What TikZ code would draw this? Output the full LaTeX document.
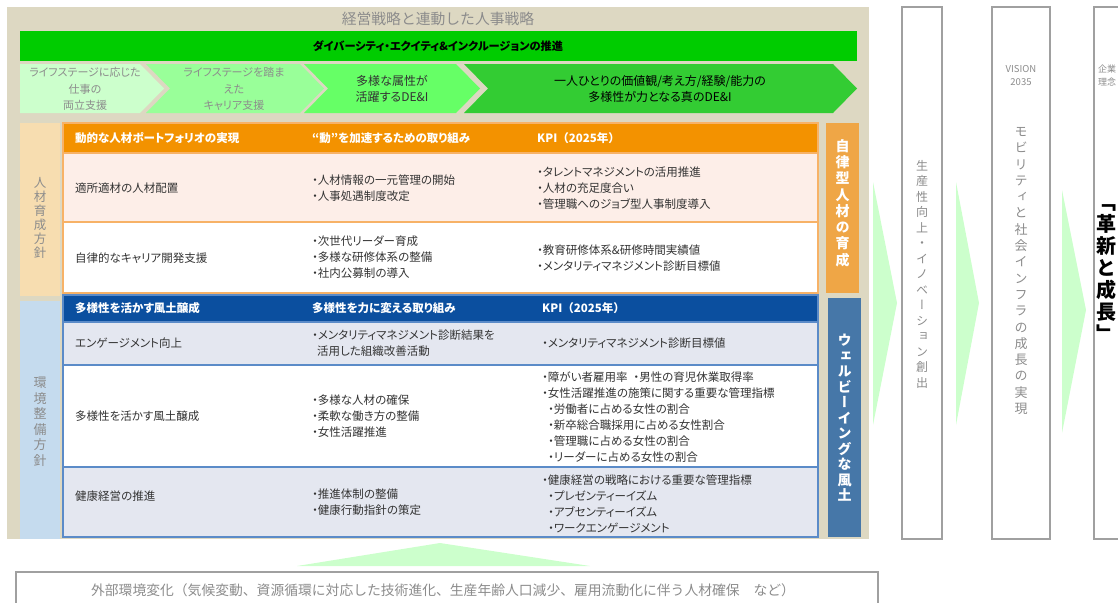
\documentclass[tikz,border=0pt]{standalone}
\usepackage{fontspec}
\setmainfont{Noto Sans CJK JP}[RawFeature=+palt]
\newfontfamily\vfont{Noto Sans CJK JP}[RawFeature=+vert]
\newfontfamily\plainjp{Noto Sans CJK JP}
\ExplSyntaxOn
\NewDocumentCommand\tate{m}{
  \seq_clear:N \l_tmpa_seq
  \tl_map_inline:nn {#1} { \seq_put_right:Nn \l_tmpa_seq {##1} }
  \seq_use:Nn \l_tmpa_seq {\\}
}
\ExplSyntaxOff
\definecolor{beige}{HTML}{DDD8C2}
\definecolor{gbar}{HTML}{00CC00}
\definecolor{chA}{HTML}{CCFFCC}
\definecolor{chB}{HTML}{99FF99}
\definecolor{chC}{HTML}{66FF66}
\definecolor{chD}{HTML}{33CC33}
\definecolor{orgH}{HTML}{F39200}
\definecolor{orgL}{HTML}{F7B267}
\definecolor{orgR}{HTML}{FDEEE8}
\definecolor{peach}{HTML}{F7DDB0}
\definecolor{lblue}{HTML}{C5DBEE}
\definecolor{bluH}{HTML}{0B4F9F}
\definecolor{bluL}{HTML}{5B8BC8}
\definecolor{bluR}{HTML}{E4E7F0}
\definecolor{orgV}{HTML}{EFA646}
\definecolor{bluV}{HTML}{4677A8}
\definecolor{tgreen}{HTML}{CCFFCC}
\definecolor{boxgray}{HTML}{A0A0A0}
\definecolor{txt}{HTML}{333333}
\definecolor{ltxt}{HTML}{8C8C8C}
\tikzset{
  cell/.style={anchor=west, align=left, inner sep=0pt, text=txt, font=\fontsize{11.5}{16}\selectfont},
  head/.style={anchor=west, inner sep=0pt, text=white, font=\bfseries\fontsize{11.5}{16}\selectfont},
  chevtext/.style={align=center, inner sep=0pt, font=\fontsize{11}{16.5}\selectfont},
  vtext/.style={align=center, inner sep=0pt},
  colbox/.style={draw=boxgray, line width=1.5pt, fill=white},
  tri/.style={fill=tgreen}
}
\begin{document}
\begin{tikzpicture}[x=1pt,y=-1pt]
\useasboundingbox (0,0) rectangle (1118,602);
\clip (0,0) rectangle (1118,602);
% main panel
\fill[beige] (7,7) rectangle (869,539);
\node[text=ltxt, font=\plainjp\fontsize{14.8}{16}\selectfont, inner sep=0pt] (title) at (438,19) {経営戦略と連動した人事戦略};
% green bar
\fill[gbar] (20,31) rectangle (857,61);
\node[font=\bfseries\fontsize{11.2}{14}\selectfont, inner sep=0pt] (dei) at (438,46) {ダイバーシティ・エクイティ\&インクルージョンの推進};
% chevrons
\fill[chA] (20,64) -- (140,64) -- (164,88.5) -- (140,113) -- (20,113) -- cycle;
\fill[chB] (146,64) -- (300,64) -- (324,88.5) -- (300,113) -- (146,113) -- (170,88.5) -- cycle;
\fill[chC] (304,64) -- (456,64) -- (480,88.5) -- (456,113) -- (304,113) -- (328,88.5) -- cycle;
\fill[chD] (464,64) -- (833,64) -- (857,88.5) -- (833,113) -- (464,113) -- (488,88.5) -- cycle;
\node[chevtext, text=ltxt] (c1) at (85,89) {ライフステージに応じた\\仕事の\\両立支援};
\node[chevtext, text=ltxt] (c2) at (234,89) {ライフステージを踏ま\\えた\\キャリア支援};
\node[chevtext, text=txt, font=\fontsize{12}{16.5}\selectfont] (c3) at (392,89) {多様な属性が\\活躍するDE\&I};
\node[chevtext, text=black, font=\fontsize{12}{16.5}\selectfont] (c4) at (660,89) {一人ひとりの価値観/考え方/経験/能力の\\多様性が力となる真のDE\&I};
% left vertical labels
\fill[peach] (20,123) rectangle (60,296);
\fill[lblue] (20,301) rectangle (60,539);
\node[vtext, text=ltxt, font=\vfont\fontsize{12.5}{14}\selectfont] (l1) at (40,218) {\tate{人材育成方針}};
\node[vtext, text=ltxt, font=\vfont\fontsize{13}{15.5}\selectfont] (l2) at (40,422) {\tate{環境整備方針}};
% orange table
\fill[orgH] (63,123) rectangle (818,153);
\fill[orgR] (63,153) rectangle (818,222);
\fill[white] (63,222) rectangle (818,293);
\draw[orgL, line width=1.2pt] (63,153) -- (818,153) (63,222) -- (818,222);
\draw[orgL, line width=1.2pt] (63,123) rectangle (818,293);
\node[head] (oh1) at (75,138) {動的な人材ポートフォリオの実現};
\node[head] (oh2) at (312,138) {“動”を加速するための取り組み};
\node[head, font=\plainjp\bfseries\fontsize{11.5}{16}\selectfont] (oh3) at (537,138) {KPI（2025年）};
\node[cell] (o11) at (75,188) {適所適材の人材配置};
\node[cell] (o12) at (312,188) {・人材情報の一元管理の開始\\・人事処遇制度改定};
\node[cell] (o13) at (537,188) {・タレントマネジメントの活用推進\\・人材の充足度合い\\・管理職へのジョブ型人事制度導入};
\node[cell] (o21) at (75,258) {自律的なキャリア開発支援};
\node[cell] (o22) at (312,257) {・次世代リーダー育成\\・多様な研修体系の整備\\・社内公募制の導入};
\node[cell] (o23) at (537,258) {・教育研修体系\&研修時間実績値\\・メンタリティマネジメント診断目標値};
% blue table
\fill[bluH] (63,295) rectangle (818,322);
\fill[bluR] (63,322) rectangle (818,365);
\fill[white] (63,365) rectangle (818,467);
\fill[bluR] (63,467) rectangle (818,537);
\draw[bluL, line width=1.2pt] (63,322) -- (818,322) (63,365) -- (818,365) (63,467) -- (818,467);
\draw[bluL, line width=1.2pt] (63,295) rectangle (818,537);
\node[head] (bh1) at (75,308.5) {多様性を活かす風土醸成};
\node[head] (bh2) at (312,308.5) {多様性を力に変える取り組み};
\node[head, font=\plainjp\bfseries\fontsize{11.5}{16}\selectfont] (bh3) at (542,308.5) {KPI（2025年）};
\node[cell] (b11) at (75,343) {エンゲージメント向上};
\node[cell] (b12) at (312,343) {・メンタリティマネジメント診断結果を\\\hspace*{5pt}活用した組織改善活動};
\node[cell] (b13) at (542,343) {・メンタリティマネジメント診断目標値};
\node[cell] (b21) at (75,416) {多様性を活かす風土醸成};
\node[cell] (b22) at (312,416) {・多様な人材の確保\\・柔軟な働き方の整備\\・女性活躍推進};
\node[cell] (b23) at (542,417.5) {・障がい者雇用率\hspace{6pt}・男性の育児休業取得率\\・女性活躍推進の施策に関する重要な管理指標\\\hspace*{6pt}・労働者に占める女性の割合\\\hspace*{6pt}・新卒総合職採用に占める女性割合\\\hspace*{6pt}・管理職に占める女性の割合\\\hspace*{6pt}・リーダーに占める女性の割合};
\node[cell] (b31) at (75,496) {健康経営の推進};
\node[cell] (b32) at (312,502) {・推進体制の整備\\・健康行動指針の策定};
\node[cell] (b33) at (542,504) {・健康経営の戦略における重要な管理指標\\\hspace*{6pt}・プレゼンティーイズム\\\hspace*{6pt}・アブセンティーイズム\\\hspace*{6pt}・ワークエンゲージメント};
% right vertical labels
\fill[orgV] (826,123) rectangle (859,293);
\fill[bluV] (828,298) rectangle (861,537);
\node[vtext, text=white, font=\vfont\bfseries\fontsize{14}{16.3}\selectfont] (r1) at (842.5,203) {\tate{自律型人材の育成}};
\node[vtext, text=white, font=\vfont\bfseries\fontsize{14}{15.5}\selectfont] (r2) at (844.5,418) {\tate{ウェルビーイングな風土}};
% right-hand columns
\draw[colbox] (902,7) rectangle (942,539);
\draw[colbox] (992,7) rectangle (1050,539);
\draw[colbox] (1094,7) rectangle (1135,539);
\node[vtext, text=ltxt, font=\vfont\fontsize{12}{15.5}\selectfont] (ca) at (922,274) {\tate{生産性向上・イノベーション創出}};
\node[align=center, text=ltxt, inner sep=0pt, font=\fontsize{9.5}{13}\selectfont] (vis) at (1021,76) {VISION\\2035};
\node[vtext, text=ltxt, font=\vfont\fontsize{13}{16.3}\selectfont] (cb) at (1021,271) {\tate{モビリティと社会インフラの成長の実現}};
\node[anchor=west, align=left, text=ltxt, inner sep=0pt, font=\fontsize{9}{13}\selectfont] (rin) at (1098,76) {企業\\理念};
\node[vtext, text=black, font=\vfont\bfseries\fontsize{20}{22}\selectfont] (cc) at (1106.5,273) {\tate{「革新と成長」}};
% green triangles
\fill[tri] (873,182) -- (897,303) -- (873,425) -- cycle;
\fill[tri] (956,182) -- (979,303) -- (956,425) -- cycle;
\fill[tri] (1062,190) -- (1086,310) -- (1062,433) -- cycle;
\fill[tri] (297,566) -- (440,543) -- (590,566) -- cycle;
% bottom box
\draw[colbox] (16,572) rectangle (878,612);
\node[text=ltxt, inner sep=0pt, font=\plainjp\fontsize{13.8}{16}\selectfont] (ext) at (443,590) {外部環境変化（気候変動、資源循環に対応した技術進化、生産年齢人口減少、雇用流動化に伴う人材確保　など）};
\end{tikzpicture}
\end{document}
